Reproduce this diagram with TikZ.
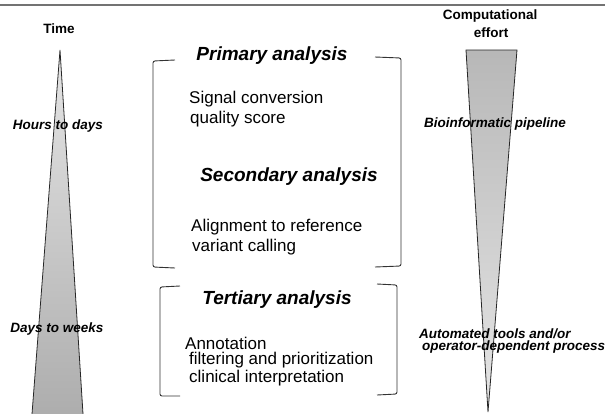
\documentclass[tikz,border=0pt]{standalone}
\usepackage{fontspec}
\setmainfont{Liberation Sans}
\begin{document}
\begin{tikzpicture}[x=1pt,y=-1pt,
  lbl/.style={font=\fontsize{13.5}{15}\selectfont\bfseries, inner sep=0pt},
  side/.style={font=\fontsize{13.5}{15}\selectfont\bfseries\itshape, inner sep=0pt},
  head/.style={font=\fontsize{19}{21}\selectfont\bfseries\itshape, inner sep=0pt},
  body/.style={font=\fontsize{17}{19}\selectfont, inner sep=0pt, anchor=west},
  brk/.style={draw=black!80, line width=0.9pt, rounded corners=2pt},
  tri/.style={draw=black!85, line width=0.8pt}]
\useasboundingbox (0,0) rectangle (605,413);
% top rule
\draw[black!55, line width=2pt] (0,5) -- (605,5);
% left wedge (time)
\shade[top color=black!10, bottom color=black!32] (60,50) -- (83,414) -- (32,414) -- cycle;
\draw[tri] (32,414) -- (60,50) -- (83,414);
% right wedge (computational effort)
\shade[top color=black!28, bottom color=black!10] (466,50) -- (517,50) -- (488,412) -- cycle;
\draw[tri] (466,50) -- (517,50) -- (488,412) -- cycle;
% headers
\node[lbl] (time) at (59,29) {Time};
\node[lbl] (comp1) at (490,16) {Computational};
\node[lbl] (comp2) at (491,33) {effort};
% side labels
\node[side] (hours) at (58,126) {Hours to days};
\node[side] (days) at (57,329) {Days to weeks};
\node[side, anchor=west] (bio) at (424,124) {Bioinformatic pipeline};
\node[side, anchor=west] (auto1) at (419,333.5) {Automated tools and/or};
\node[side, anchor=west] (auto2) at (422,347.5) {operator-dependent process};
% bracket 1
\draw[brk] (175,60) -- (153,61) -- (153,267) -- (175,268);
\draw[brk] (375,57) -- (401,58) -- (401,266) -- (375,267);
\node[head] (prim) at (272,56) {Primary analysis};
\node[body] (sig) at (189,99) {Signal conversion};
\node[body] (qual) at (190,119) {quality score};
\node[head] (sec) at (289,177) {Secondary analysis};
\node[body] (align) at (191,227) {Alignment to reference};
\node[body] (var) at (192,247) {variant calling};
% bracket 2
\draw[brk] (180,286) -- (160,287) -- (160,396) -- (180,396);
\draw[brk] (377,284) -- (397,285) -- (397,394) -- (377,395);
\node[head] (ter) at (277,300) {Tertiary analysis};
\node[body] (ann) at (185,343) {Annotation};
\node[body] (filt) at (189,360) {filtering and prioritization};
\node[body] (clin) at (189,378) {clinical interpretation};
\end{tikzpicture}
\end{document}
